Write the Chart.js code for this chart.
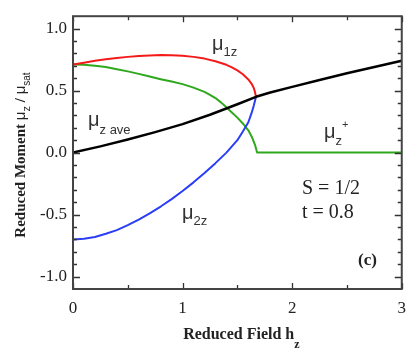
<!DOCTYPE html>
<html>
<head>
<meta charset="utf-8">
<script src="https://cdn.jsdelivr.net/npm/chart.js@4.4.1/dist/chart.umd.min.js"></script>
<style>
  html, body { margin: 0; padding: 0; background: #fff; }
  #wrap { width: 415px; height: 356px; }
</style>
</head>
<body>
<div id="wrap"><canvas id="myChart" width="415" height="356"></canvas></div>
<script>
// values
const aveField = [0, 0.25, 0.5, 0.75, 1.0, 1.25, 1.5, 1.67, 1.8, 2.0, 2.25, 2.5, 2.75, 3.0];
const aveMoment = [0, 0.05, 0.105, 0.165, 0.23, 0.305, 0.39, 0.45, 0.485, 0.53, 0.585, 0.64, 0.69, 0.74];

const oneField = [0, 0.1, 0.2, 0.3, 0.4, 0.5, 0.6, 0.7, 0.8, 0.9, 1.0, 1.1, 1.2, 1.3, 1.4, 1.45, 1.5, 1.55, 1.6, 1.63, 1.65, 1.66, 1.67];
const oneMoment = [0.71, 0.725, 0.74, 0.752, 0.763, 0.772, 0.779, 0.784, 0.787, 0.786, 0.781, 0.772, 0.758, 0.737, 0.708, 0.688, 0.663, 0.632, 0.59, 0.555, 0.52, 0.49, 0.45];

const twoField = [0, 0.1, 0.2, 0.3, 0.4, 0.5, 0.6, 0.7, 0.8, 0.9, 1.0, 1.1, 1.2, 1.3, 1.4, 1.45, 1.5, 1.55, 1.6, 1.63, 1.65, 1.67];
const twoMoment = [-0.70, -0.695, -0.68, -0.655, -0.625, -0.585, -0.54, -0.49, -0.435, -0.375, -0.31, -0.24, -0.165, -0.085, 0.0, 0.05, 0.1, 0.17, 0.245, 0.32, 0.38, 0.45];

const plusField = [0, 0.1, 0.2, 0.3, 0.4, 0.5, 0.6, 0.7, 0.8, 0.9, 1.0, 1.1, 1.2, 1.25, 1.3, 1.35, 1.4, 1.45, 1.5, 1.55, 1.6, 1.63, 1.66, 1.68, 2.0, 2.5, 3.0];
const plusMoment = [0.71, 0.708, 0.70, 0.69, 0.673, 0.655, 0.635, 0.613, 0.592, 0.573, 0.552, 0.524, 0.49, 0.466, 0.44, 0.405, 0.365, 0.324, 0.282, 0.235, 0.18, 0.13, 0.065, 0, 0, 0, 0];

const xTicks = [0, 1, 2, 3];
const yTicks = [-1.0, -0.5, 0.0, 0.5, 1.0];

function points(xs, ys) {
  return xs.map((x, i) => ({ x: x, y: ys[i] }));
}

const serif = '"Liberation Serif", "DejaVu Serif", serif';
const sans = '"Liberation Sans", Arial, sans-serif';

// draws a run of text pieces left to right, each with its own font and baseline shift
function drawRich(ctx, parts, x, y) {
  let cx = x;
  parts.forEach((p) => {
    ctx.font = p.font;
    ctx.fillText(p.t, cx, y + (p.dy || 0));
    cx += ctx.measureText(p.t).width;
  });
  return cx - x;
}

function richWidth(ctx, parts) {
  let w = 0;
  parts.forEach((p) => {
    ctx.font = p.font;
    w += ctx.measureText(p.t).width;
  });
  return w;
}

const framePlugin = {
  id: 'frame',
  afterDraw(chart) {
    const ctx = chart.ctx;
    const a = chart.chartArea;
    const xs = chart.scales.x;
    const ys = chart.scales.y;
    ctx.save();

    // inward ticks on all four sides
    ctx.strokeStyle = '#333';
    ctx.lineWidth = 1.3;
    for (let v = 0; v <= 3.001; v += 0.5) {
      const px = Math.round(xs.getPixelForValue(v)) + 0.5;
      const len = Math.abs(v - Math.round(v)) < 0.01 ? 6 : 4;
      ctx.beginPath();
      ctx.moveTo(px, a.bottom);
      ctx.lineTo(px, a.bottom - len);
      ctx.moveTo(px, a.top);
      ctx.lineTo(px, a.top + len);
      ctx.stroke();
    }
    for (let i = -10; i <= 10; i++) {
      const v = i / 10;
      const py = Math.round(ys.getPixelForValue(v)) + 0.5;
      const len = i % 5 === 0 ? 7 : 4;
      ctx.beginPath();
      ctx.moveTo(a.left, py);
      ctx.lineTo(a.left + len, py);
      ctx.moveTo(a.right, py);
      ctx.lineTo(a.right - len, py);
      ctx.stroke();
    }

    // frame
    ctx.lineWidth = 2;
    ctx.strokeStyle = '#444';
    ctx.strokeRect(a.left, a.top, a.right - a.left, a.bottom - a.top);

    ctx.fillStyle = '#222';
    ctx.textBaseline = 'alphabetic';
    ctx.textAlign = 'left';

    // x title
    const xt = [
      { t: 'Reduced Field h', font: 'bold 16px ' + serif },
      { t: 'z', font: 'bold 12px ' + serif, dy: 9 }
    ];
    const xw = richWidth(ctx, xt);
    drawRich(ctx, xt, (a.left + a.right) / 2 - xw / 2 + 4, 339);

    // y title, rotated
    const yt = [
      { t: 'Reduced Moment ', font: 'bold 15px ' + serif },
      { t: 'μ', font: '15px ' + sans },
      { t: 'z', font: '11px ' + sans, dy: 5 },
      { t: ' / ', font: 'bold 15px ' + serif },
      { t: 'μ', font: '15px ' + sans },
      { t: 'sat', font: '10px ' + sans, dy: 5 }
    ];
    const yw = richWidth(ctx, yt);
    ctx.save();
    ctx.translate(25, 155);
    ctx.rotate(-Math.PI / 2);
    drawRich(ctx, yt, -yw / 2, 0);
    ctx.restore();

    // curve labels
    ctx.fillStyle = '#333';
    drawRich(ctx, [
      { t: 'μ', font: '20px ' + sans },
      { t: 'z ave', font: '13px ' + sans, dy: 8 }
    ], 88, 126);
    drawRich(ctx, [
      { t: 'μ', font: '20px ' + sans },
      { t: '1z', font: '13px ' + sans, dy: 6 }
    ], 212, 50);
    drawRich(ctx, [
      { t: 'μ', font: '20px ' + sans },
      { t: '2z', font: '13px ' + sans, dy: 6 }
    ], 182, 219);
    drawRich(ctx, [
      { t: 'μ', font: '20px ' + sans },
      { t: 'z', font: '13px ' + sans, dy: 7 },
      { t: '+', font: '11px ' + sans, dy: -10 }
    ], 324, 138);

    ctx.fillStyle = '#222';
    ctx.font = '20px ' + serif;
    ctx.fillText('S = 1/2', 302, 194);
    ctx.fillText('t = 0.8', 302, 218);
    ctx.font = 'bold 17px ' + serif;
    ctx.fillText('(c)', 358, 265);

    ctx.restore();
  }
};

const ctx = document.getElementById('myChart');

new Chart(ctx, {
  type: 'line',
  data: {
    datasets: [
      {
        label: 'mu z ave',
        data: points(aveField, aveMoment),
        borderColor: '#000000',
        borderWidth: 2.5
      },
      {
        label: 'mu 1z',
        data: points(oneField, oneMoment),
        borderColor: '#f41a1a',
        borderWidth: 2
      },
      {
        label: 'mu 2z',
        data: points(twoField, twoMoment),
        borderColor: '#2a3ff5',
        borderWidth: 2
      },
      {
        label: 'mu z+',
        data: points(plusField, plusMoment),
        borderColor: '#2fa81e',
        borderWidth: 2
      }
    ]
  },
  options: {
    responsive: false,
    animation: false,
    elements: {
      point: { radius: 0 },
      line: { tension: 0, fill: false, borderJoinStyle: 'round' }
    },
    layout: { padding: { left: 0, top: 14, right: 8, bottom: 0 } },
    plugins: {
      legend: { display: false },
      tooltip: { enabled: false }
    },
    scales: {
      x: {
        type: 'linear',
        min: 0,
        max: 3,
        grid: { display: false, drawTicks: false },
        border: { display: false },
        afterBuildTicks: (scale) => {
          scale.ticks = xTicks.map((v) => ({ value: v }));
        },
        afterFit: (scale) => { scale.height = 67; },
        ticks: {
          color: '#222',
          font: { family: serif, size: 17 },
          padding: 9,
          callback: (v) => String(v)
        }
      },
      y: {
        type: 'linear',
        min: -1.1,
        max: 1.1,
        grid: { display: false, drawTicks: false },
        border: { display: false },
        afterBuildTicks: (scale) => {
          scale.ticks = yTicks.map((v) => ({ value: v }));
        },
        afterFit: (scale) => { scale.width = 73; },
        ticks: {
          color: '#222',
          font: { family: serif, size: 17 },
          padding: 6,
          callback: (v) => Number(v).toFixed(1)
        }
      }
    }
  },
  plugins: [framePlugin]
});
</script>
</body>
</html>
